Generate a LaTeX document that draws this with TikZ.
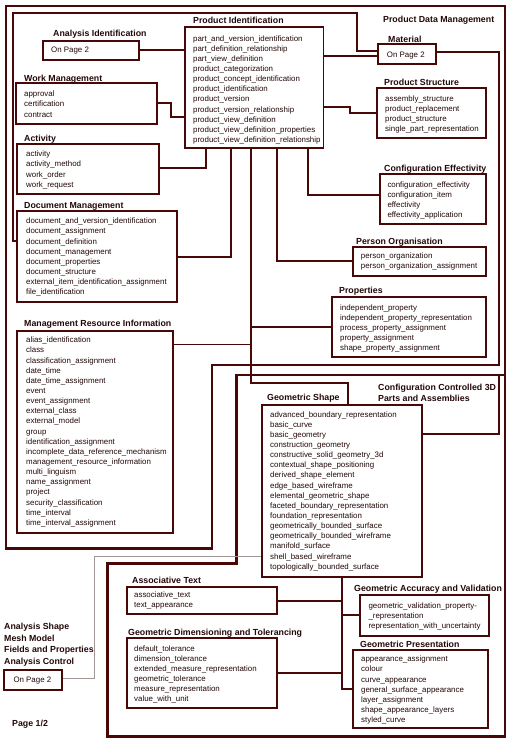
\documentclass[tikz,border=0pt]{standalone}
\usepackage{fontspec}
\setmainfont{Liberation Sans}
\usetikzlibrary{fit}
\definecolor{ln}{RGB}{72,8,8}
\definecolor{tx}{RGB}{35,8,8}
\definecolor{gr}{RGB}{165,150,150}
\newcommand\mkitems[4]{%
  \foreach \txt [count=\k] in {#4} {%
    \node[itm] (#1-\k) at (#2,{#3+(\k-1)*10.15}) {\txt};}}
\begin{document}
\begin{tikzpicture}[x=1pt,y=-1pt,line join=miter,
  itm/.style={anchor=base west,inner sep=0pt,text=tx,font=\fontsize{7.9}{9}\selectfont},
  lbl/.style={anchor=base west,inner sep=0pt,text=tx,font=\bfseries\fontsize{8.8}{10}\selectfont},
  boxr/.style={draw=ln,line width=1.9pt,inner sep=0pt,fit={#1}},
  conn/.style={draw=ln,line width=1.9pt},
  region/.style={draw=ln,line width=2.6pt},
  grayconn/.style={draw=gr,line width=1.2pt}]
\fill[white] (0,0) rectangle (511,744);
\useasboundingbox (0,0) rectangle (511,744);

% region outlines
\draw[region] (499,365) -- (212,365) -- (212,548.5) -- (6,548.5) -- (6,6) -- (505,6)
  -- (505,736.7) -- (107.3,736.7) -- (107.3,563.3) -- (236.7,563.3) -- (236.7,375) -- (505,375);

% boxes
\node[boxr={(43.3,40.7) (139.3,60)}] (ai) {};
\node[boxr={(185,27) (323.5,147.7)}] (pi) {};
\node[boxr={(16,83.3) (156.7,124)}] (wm) {};
\node[boxr={(17.3,144) (159.3,194)}] (act) {};
\node[boxr={(17.3,210.7) (176.7,301.7)}] (dm) {};
\node[boxr={(17.3,331) (173.3,533.3)}] (mri) {};
\node[boxr={(378.3,44.3) (436,64)}] (mat) {};
\node[boxr={(376.7,87.7) (485.7,137.7)}] (ps) {};
\node[boxr={(380,174.3) (485.7,224.3)}] (ce) {};
\node[boxr={(352.7,247.3) (485.7,276)}] (po) {};
\node[boxr={(331.7,296.7) (485.7,356.7)}] (props) {};
\node[boxr={(261.7,405) (421.7,576.7)}] (gs) {};
\node[boxr={(126.7,586.7) (276.7,614.3)}] (at) {};
\node[boxr={(126.7,637.7) (276.7,707.7)}] (gdt) {};
\node[boxr={(360,595) (489.3,636)}] (gav) {};
\node[boxr={(352.7,650) (488.3,728.3)}] (gp) {};
\node[boxr={(4,670) (62.3,690)}] (ana) {};

% connectors
\draw[conn] (ai.east |- 0,50) -- (pi.west |- 0,50);
\draw[conn] (wm.east |- 0,103.3) -- (170.7,103.3) -- (170.7,116.7) -- (pi.west |- 0,116.7);
\draw[conn] (pi.south -| 205.7,0) -- (205.7,168.3) -- (act.east |- 0,168.3);
\draw[conn] (pi.south -| 230.7,0) |- (dm.east |- 0,256.7);
\draw[conn] (pi.south -| 251,0) -- (251,383.3) -| (gs.north -| 348.3,0);
\draw[conn] (251,326.7) -- (props.west |- 0,326.7);
\draw[conn] (mri.east |- 0,344.5) -- (251,344.5);
\draw[conn] (pi.south -| 276.7,0) |- (po.west |- 0,260.7);
\draw[conn] (pi.south -| 308.3,0) |- (ce.west |- 0,195);
\draw[conn] (pi.east |- 0,106.7) -- (350,106.7) |- (ps.west |- 0,112.7);
\draw[conn] (pi.east |- 0,56) -- (mat.west |- 0,56);
\draw[conn] (mat.west |- 0,50.7) -- (356.7,50.7) -- (356.7,13.3) -- (13.3,13.3) -- (13.3,241) -- (dm.west |- 0,241);
\draw[conn] (mat.east |- 0,51.7) -- (499,51.7) -- (499,366);
\draw[conn] (499,374) -- (499,434) -- (gs.east |- 0,434);
\draw[conn] (gs.south -| 341.7,0) -- (341.7,689.3) -- (gp.west |- 0,689.3);
\draw[conn] (at.east |- 0,600.7) -- (341.7,600.7);
\draw[conn] (341.7,615) -- (gav.west |- 0,615);
\draw[conn] (gdt.east |- 0,672.7) -- (341.7,672.7);
\draw[grayconn] (ana.east |- 0,678.3) -- (94.3,678.3) -- (94.3,556.7) -- (gs.west |- 0,556.7);

% labels
\node[lbl] (pdmT) at (383,22.5) {Product Data Management};
\node[lbl] (aiT) at (53,36.2) {Analysis Identification};
\node[lbl] (piT) at (193,23.9) {Product Identification};
\node[lbl] (wmT) at (24,81.9) {Work Management};
\node[lbl] (actT) at (24,141.2) {Activity};
\node[lbl] (dmT) at (24,208.2) {Document Management};
\node[lbl] (mriT) at (24,326.5) {Management Resource Information};
\node[lbl] (matT) at (388,42.2) {Material};
\node[lbl] (psT) at (384,85.5) {Product Structure};
\node[lbl] (ceT) at (384,171.5) {Configuration Effectivity};
\node[lbl] (poT) at (356,244.9) {Person Organisation};
\node[lbl] (propsT) at (339,293.2) {Properties};
\node[lbl] (ccA) at (378,390.5) {Configuration Controlled 3D};
\node[lbl] (ccB) at (378,401.5) {Parts and Assemblies};
\node[lbl] (gsT) at (267,400.5) {Geometric Shape};
\node[lbl] (atT) at (132,583.9) {Associative Text};
\node[lbl] (gdtT) at (128,635.5) {Geometric Dimensioning and Tolerancing};
\node[lbl] (gavT) at (354,591.5) {Geometric Accuracy and Validation};
\node[lbl] (gpT) at (360,647.5) {Geometric Presentation};
\node[lbl] (anA) at (4,629.9) {Analysis Shape};
\node[lbl] (anB) at (4,641.3) {Mesh Model};
\node[lbl] (anC) at (4,652.7) {Fields and Properties};
\node[lbl] (anD) at (4,664.1) {Analysis Control};
\node[lbl] (pg) at (12,726.5) {Page 1/2};

\node[itm] (aiP) at (51,52.8) {On Page 2};
\node[itm] (matP) at (386.7,57.8) {On Page 2};
\node[itm] (anaP) at (13.3,682.1) {On Page 2};

% item lists
\mkitems{pii}{193}{41}{part\_and\_version\_identification,part\_definition\_relationship,part\_view\_definition,product\_categorization,product\_concept\_identification,product\_identification,product\_version,product\_version\_relationship,product\_view\_definition,product\_view\_definition\_properties,product\_view\_definition\_relationship}
\mkitems{wmi}{24}{96.7}{approval,certification,contract}
\mkitems{acti}{26}{156.7}{activity,activity\_method,work\_order,work\_request}
\mkitems{dmi}{26}{223.7}{document\_and\_version\_identification,document\_assignment,document\_definition,document\_management,document\_properties,document\_structure,external\_item\_identification\_assignment,file\_identification}
\mkitems{mrii}{26}{342.7}{alias\_identification,class,classification\_assignment,date\_time,date\_time\_assignment,event,event\_assignment,external\_class,external\_model,group,identification\_assignment,incomplete\_data\_reference\_mechanism,management\_resource\_information,multi\_linguism,name\_assignment,project,security\_classification,time\_interval,time\_interval\_assignment}
\mkitems{psi}{385}{101}{assembly\_structure,product\_replacement,product\_structure,single\_part\_representation}
\mkitems{cei}{387.3}{187}{configuration\_effectivity,configuration\_item,effectivity,effectivity\_application}
\mkitems{poi}{360.7}{258.7}{person\_organization,person\_organization\_assignment}
\mkitems{propsi}{340}{310}{independent\_property,independent\_property\_representation,process\_property\_assignment,property\_assignment,shape\_property\_assignment}
\mkitems{gsi}{270}{417}{advanced\_boundary\_representation,basic\_curve,basic\_geometry,construction\_geometry,constructive\_solid\_geometry\_3d,contextual\_shape\_positioning,derived\_shape\_element,edge\_based\_wireframe,elemental\_geometric\_shape,faceted\_boundary\_representation,foundation\_representation,geometrically\_bounded\_surface,geometrically\_bounded\_wireframe,manifold\_surface,shell\_based\_wireframe,topologically\_bounded\_surface}
\mkitems{ati}{134}{597.7}{associative\_text,text\_appearance}
\mkitems{gavi}{368.3}{608.4}{geometric\_validation\_property-,\_representation,representation\_with\_uncertainty}
\mkitems{gdti}{134}{651}{default\_tolerance,dimension\_tolerance,extended\_measure\_representation,geometric\_tolerance,measure\_representation,value\_with\_unit}
\mkitems{gpi}{361}{661.7}{appearance\_assignment,colour,curve\_appearance,general\_surface\_appearance,layer\_assignment,shape\_appearance\_layers,styled\_curve}
\end{tikzpicture}
\end{document}
